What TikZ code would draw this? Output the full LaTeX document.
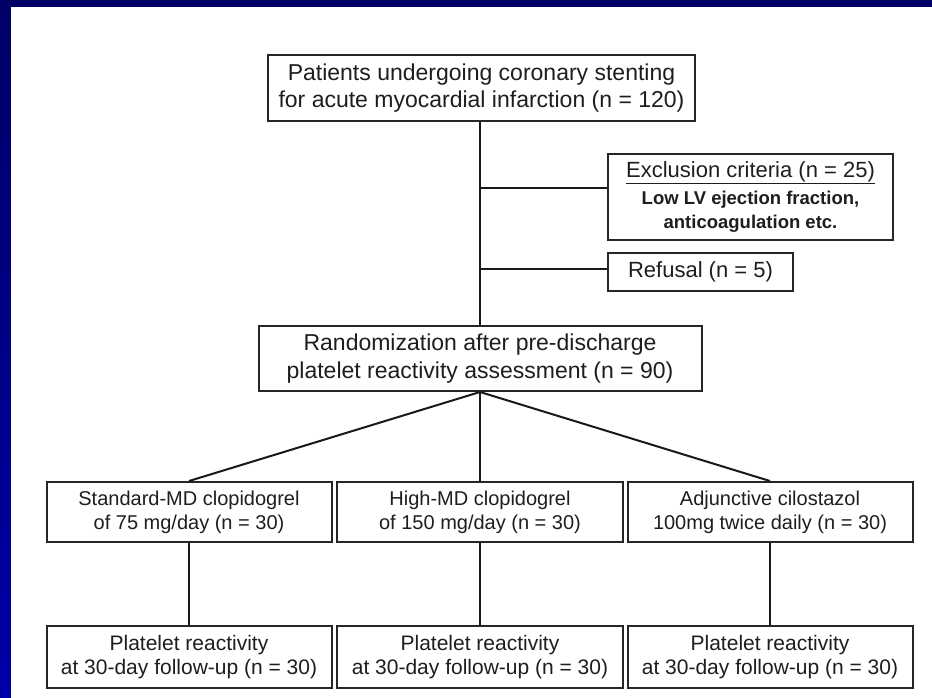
\documentclass[tikz,border=0pt]{standalone}
\usepackage{fontspec}
\setmainfont{Liberation Sans}
\definecolor{navytop}{RGB}{0,0,102}
\definecolor{navybot}{RGB}{0,0,168}
\definecolor{txt}{RGB}{30,30,30}
\begin{document}
\begin{tikzpicture}[x=1pt,y=-1pt,
  box/.style={draw=black!85, line width=2pt, fill=white, align=center, text=txt, inner sep=0pt},
  conn/.style={draw=black!90, line width=2pt},
  big/.style={font=\fontsize{23}{27.5}\selectfont},
  mid/.style={font=\fontsize{20}{24}\selectfont},
  low/.style={font=\fontsize{21}{24.5}\selectfont}]
\useasboundingbox (0,0) rectangle (932,697);
\shade[top color=navytop, bottom color=navybot] (0,0) rectangle (932,697);
\fill[white] (11,7) rectangle (945,710);

\node[box, big, minimum width=427pt, minimum height=66pt] (top) at (481.5,88)
  {Patients undergoing coronary stenting\\for acute myocardial infarction (n = 120)};
\node[box, minimum width=285pt, minimum height=86pt, font=\bfseries\fontsize{18.5}{24}\selectfont] (excl) at (750.5,197)
  {{\mdseries\fontsize{22}{26}\selectfont\underline{Exclusion criteria (n = 25)}}\\[3pt]Low LV ejection fraction,\\anticoagulation etc.};
\node[box, font=\fontsize{22}{26}\selectfont, minimum width=185pt, minimum height=38pt] (ref) at (700.5,272)
  {Refusal (n = 5)};
\node[box, big, minimum width=443pt, minimum height=65pt] (rand) at (480,358.5)
  {Randomization after pre-discharge\\platelet reactivity assessment (n = 90)};

\node[box, mid, minimum width=285pt, minimum height=60pt] (m1) at (189,512)
  {Standard-MD clopidogrel\\of 75 mg/day (n = 30)};
\node[box, mid, minimum width=286pt, minimum height=60pt] (m2) at (480,512)
  {High-MD clopidogrel\\of 150 mg/day (n = 30)};
\node[box, mid, minimum width=285pt, minimum height=60pt] (m3) at (770,512)
  {Adjunctive cilostazol\\100mg twice daily (n = 30)};

\node[box, low, minimum width=285pt, minimum height=62pt] (b1) at (189,657)
  {Platelet reactivity\\at 30-day follow-up (n = 30)};
\node[box, low, minimum width=286pt, minimum height=62pt] (b2) at (480,657)
  {Platelet reactivity\\at 30-day follow-up (n = 30)};
\node[box, low, minimum width=285pt, minimum height=62pt] (b3) at (770,657)
  {Platelet reactivity\\at 30-day follow-up (n = 30)};

\coordinate (j1) at (480,188);
\coordinate (j2) at (480,269);
\draw[conn] (top.south -| rand.north) -- (rand.north);
\draw[conn] (j1) -- (j1 -| excl.west);
\draw[conn] (j2) -- (j2 -| ref.west);
\draw[conn] (rand.south) -- (m1.north);
\draw[conn] (rand.south) -- (m2.north);
\draw[conn] (rand.south) -- (m3.north);
\draw[conn] (m1.south) -- (b1.north);
\draw[conn] (m2.south) -- (b2.north);
\draw[conn] (m3.south) -- (b3.north);
\end{tikzpicture}
\end{document}
